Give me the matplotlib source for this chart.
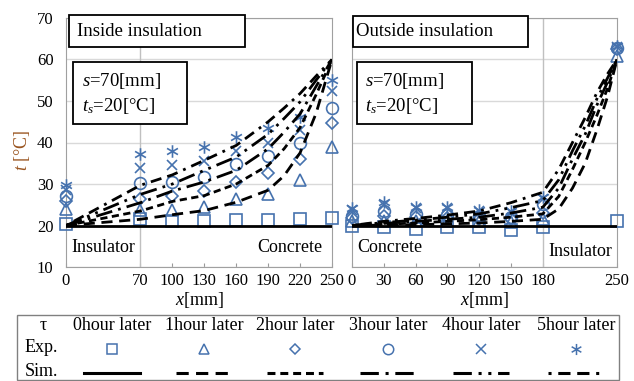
import matplotlib
matplotlib.use('Agg')
import matplotlib.pyplot as plt
from matplotlib.path import Path
from matplotlib.lines import Line2D
from matplotlib.patches import Rectangle

plt.rcParams['font.family'] = ['Liberation Serif', 'DejaVu Serif']
plt.rcParams['mathtext.fontset'] = 'custom'
plt.rcParams['mathtext.rm'] = 'Liberation Serif'
plt.rcParams['mathtext.it'] = 'Liberation Serif:italic'

hours = ['0hour later', '1hour later', '2hour later', '3hour later', '4hour later', '5hour later']

# inside insulation (left)
in_ticks = [0, 70, 100, 130, 160, 190, 220, 250]
in_exp_x = [0, 70, 100, 130, 160, 190, 220, 250]
in_exp = [
    [20.3, 21.5, 21.2, 21.2, 21.4, 21.4, 21.5, 21.8],
    [24.0, 23.8, 23.8, 24.4, 26.4, 27.5, 31.0, 39.0],
    [25.8, 26.4, 27.0, 28.2, 30.5, 32.6, 36.1, 44.8],
    [27.0, 30.3, 30.6, 31.8, 34.7, 36.7, 39.8, 48.3],
    [28.5, 33.8, 34.5, 35.5, 38.0, 40.0, 43.0, 52.5],
    [29.7, 37.2, 38.0, 39.0, 41.3, 43.4, 46.2, 55.0],
]
in_sim_x = [0, 70, 100, 130, 160, 190, 205, 220, 235, 250]
in_sim = [
    [20, 20, 20, 20, 20, 20, 20, 20, 20, 20],
    [20, 21.5, 22.6, 23.6, 25.6, 28.5, 32.0, 37.5, 47.0, 60],
    [20, 23.5, 25.8, 27.2, 30.0, 34.5, 38.5, 43.6, 51.5, 60],
    [20, 25.5, 28.3, 30.5, 33.3, 38.5, 42.5, 46.9, 53.5, 60],
    [20, 27.5, 30.0, 33.3, 36.5, 42.0, 45.8, 49.8, 55.0, 60],
    [20, 29.7, 32.2, 35.7, 39.3, 45.0, 48.3, 51.8, 56.0, 60],
]

# outside insulation (right)
out_ticks = [0, 30, 60, 90, 120, 150, 180, 250]
out_exp_x = [0, 30, 60, 90, 120, 150, 180, 250]
out_exp = [
    [20.0, 19.6, 19.2, 19.6, 19.6, 18.8, 19.6, 21.2],
    [21.2, 21.2, 21.0, 21.0, 21.0, 20.8, 21.6, 60.8],
    [21.8, 22.3, 22.0, 21.8, 21.5, 21.5, 23.0, 62.5],
    [22.4, 23.6, 22.8, 22.5, 22.2, 22.0, 25.3, 62.8],
    [23.8, 25.0, 24.2, 24.2, 23.5, 23.2, 26.5, 63.0],
    [24.2, 25.6, 24.5, 24.5, 23.7, 23.5, 26.8, 63.3],
]
out_sim_x = [0, 30, 60, 90, 120, 150, 180, 195, 208, 220, 231, 241, 250]
out_sim = [
    [20, 20, 20, 20, 20, 20, 20, 20, 20, 20, 20, 20, 20],
    [20, 20.1, 20.2, 20.4, 20.6, 21.0, 21.5, 24.0, 29.0, 35.0, 43.0, 51.0, 60],
    [20, 20.3, 20.6, 21.0, 21.4, 22.0, 22.8, 27.0, 33.5, 40.0, 46.5, 53.0, 60],
    [20, 20.5, 21.0, 21.5, 22.0, 23.0, 24.4, 29.0, 36.0, 42.0, 49.0, 54.5, 60],
    [20, 20.7, 21.3, 22.0, 22.8, 24.3, 26.0, 31.0, 38.0, 44.0, 50.5, 55.5, 60],
    [20, 21.0, 21.7, 22.5, 23.5, 25.5, 28.0, 33.5, 40.0, 46.0, 52.0, 56.5, 60],
]

W, H = 634, 381
fig = plt.figure(figsize=(W / 100, H / 100), dpi=100)


def fx(p):
    return p / W


def fy(p):
    return 1 - p / H


blue = '#4672AE'
brown = '#9A5520'
asterisk = Path([(0, -1), (0, 1), (-0.87, -0.5), (0.87, 0.5), (-0.87, 0.5), (0.87, -0.5)],
                [Path.MOVETO, Path.LINETO, Path.MOVETO, Path.LINETO, Path.MOVETO, Path.LINETO])
markers = ['s', '^', 'D', 'o', 'x', asterisk]
msizes = [8, 8, 6, 8.5, 7.5, 9]
styles = ['-', (0, (4, 2.4)), (0, (2.6, 1.6)), (0, (6, 2.2, 1, 2.2)),
          (0, (6, 2.2, 1, 2.2, 1, 2.2)), (0, (1, 2.2, 4, 2.2, 4, 2.2))]

ax1 = fig.add_axes([fx(66), fy(267), fx(266), 249 / H])
ax2 = fig.add_axes([fx(352), fy(267), fx(265), 249 / H])

for ax, ex, ey, sx, sy, ticks, vx in [(ax1, in_exp_x, in_exp, in_sim_x, in_sim, in_ticks, 70),
                                      (ax2, out_exp_x, out_exp, out_sim_x, out_sim, out_ticks, 180)]:
    for i in range(6):
        ax.plot(ex, ey[i], ls='none', marker=markers[i], ms=msizes[i], mfc='none',
                mec=blue, mew=1.2, zorder=3, clip_on=False)
    for i in range(6):
        ax.plot(sx, sy[i], color='black', lw=2, ls=styles[i], zorder=4)
    ax.set_xlim(0, 250)
    ax.set_ylim(10, 70)
    ax.set_xticks(ticks)
    ax.set_yticks(range(10, 71, 10))
    ax.yaxis.grid(True, color='#d9d9d9', lw=1)
    ax.set_axisbelow(True)
    ax.axvline(vx, color='#c0c0c0', lw=1, zorder=1)
    ax.tick_params(axis='x', direction='in', length=3, color='#999999', labelsize=12, pad=4)
    ax.tick_params(axis='y', length=0, labelsize=12, pad=9)
    for sp in ax.spines.values():
        sp.set_color('#a0a0a0')
    ax.set_xlabel('$x$[mm]', fontsize=13, labelpad=1)

ax2.tick_params(axis='y', labelleft=False)

# y label
fig.text(fx(22), fy(150), '$t$ [°C]', rotation=90, color=brown, fontsize=13,
         ha='center', va='center')

# text boxes
for x0, y0, x1, y1 in [(69, 15, 245, 47), (73, 62, 187, 124), (353, 16, 528, 47), (357, 62, 472, 124)]:
    fig.patches.append(Rectangle((fx(x0), fy(y1)), fx(x1 - x0), (y1 - y0) / H, transform=fig.transFigure,
                                 facecolor='white', edgecolor='black', lw=1.3, zorder=5))
fig.text(fx(77), fy(31), 'Inside insulation', fontsize=13.5, va='center', zorder=6)
fig.text(fx(356), fy(32), 'Outside insulation', fontsize=13.5, va='center', zorder=6)
for x0 in [82, 365]:
    fig.text(fx(x0), fy(81), '$s$=70[mm]', fontsize=13.5, va='center', zorder=6)
    fig.text(fx(x0), fy(106), '$t_s$=20[°C]', fontsize=13.5, va='center', zorder=6)

# region labels
fig.text(fx(71), fy(248), 'Insulator', fontsize=13, va='center')
fig.text(fx(322), fy(248), 'Concrete', fontsize=13, va='center', ha='right')
fig.text(fx(357), fy(248), 'Concrete', fontsize=13, va='center')
fig.text(fx(612), fy(251), 'Insulator', fontsize=13, va='center', ha='right')

# legend table
fig.patches.append(Rectangle((fx(17), fy(380)), fx(602), 65 / H, transform=fig.transFigure,
                             facecolor='none', edgecolor='#808080', lw=1))
fig.text(fx(43), fy(326), 'τ', fontsize=13, ha='center', va='center')
fig.text(fx(25), fy(348), 'Exp.', fontsize=13, va='center')
fig.text(fx(25), fy(372), 'Sim.', fontsize=13, va='center')
cols = [112, 204, 295, 388, 481, 576]
for i, c in enumerate(cols):
    fig.text(fx(c), fy(326), hours[i], fontsize=13, ha='center', va='center')
    fig.lines.append(Line2D([fx(c)], [fy(349)], transform=fig.transFigure, ls='none',
                            marker=markers[i], ms=msizes[i] - 1, mfc='none', mec=blue, mew=1.1))
    fig.lines.append(Line2D([fx(c - 28), fx(c + 28)], [fy(373), fy(373)], transform=fig.transFigure,
                            color='black', lw=2.2, ls=styles[i]))

fig.savefig('out.png', dpi=100)
